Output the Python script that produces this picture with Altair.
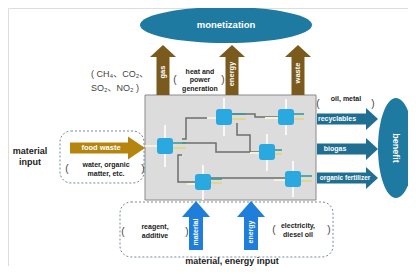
import altair as alt
import pandas as pd

FONT = "Liberation Sans, Arial, Noto Sans CJK SC, sans-serif"

# ---------------- data ----------------
# central process box
box_x, box_x2, box_y, box_y2 = [145], [316], [95], [200]

# dashed rounded frames (left input, bottom input)
dash_x, dash_x2 = [60, 120], [144, 333]
dash_y, dash_y2 = [131, 202], [183, 257]

# ellipses
mon_x, mon_y, mon_w, mon_h = [226], [25], 172, 36
ben_x, ben_y, ben_w, ben_h = [396], [148], 36, 100

# brown up arrows (outputs to monetization)
up_labels = ["gas", "energy", "waste"]
up_x = [163, 232, 298]
up_base = [95, 95, 95]
up_neck = [57, 57, 57]
up_text_y = [72, 74, 73]

# teal right arrows (outputs to benefit)
rt_labels = ["recyclables", "biogas", "organic fertilizer"]
rt_y = [119, 149, 178]
rt_start = [317, 317, 317]
rt_neck = [366, 366, 366]
rt_text_x = [337, 335, 345]
rt_text_size = [7, 7, 6.5]

# food waste arrow
fw_y = [148]
fw_start, fw_neck = [70], [128]
fw_text_x = [101]

# blue up arrows (material / energy input)
bl_labels = ["material", "energy"]
bl_x = [196, 251]
bl_base = [250, 250]
bl_neck = [217, 217]
bl_text_y = [232, 232]

# process nodes
node_x = [165, 224, 286, 267, 203, 293]
node_y = [146, 117, 117, 152, 182, 179]

# network connection polylines
conn_id = ["a"] * 4 + ["b"] * 4 + ["c"] * 4 + ["d"] * 4 + ["e"] * 4 + ["f"] * 2
conn_x = [182, 186, 186, 216,
          182, 216, 216, 259,
          182, 178, 178, 195,
          232, 255, 255, 278,
          237, 237, 250, 250,
          211, 285]
conn_y = [139, 139, 118, 118,
          143, 143, 152, 152,
          155, 155, 182, 182,
          114, 114, 117, 117,
          123, 135, 135, 152,
          178, 178]

# decoration lines around nodes (white vertical / horizontal, coloured stubs)
wv_x = [165, 224, 286, 267, 203, 293]
wv_y = [125, 98, 99, 134, 165, 161]
wv_y2 = [167, 136, 135, 171, 200, 197]
wh_x = [145, 207, 265, 250, 187, 274]
wh_x2 = [157, 216, 278, 259, 195, 285]
wh_y = [146, 118, 118, 153, 184, 180]
stub_x = [173, 173, 232, 232, 294, 294, 275, 275, 211, 211, 301, 301]
stub_x2 = [186, 186, 246, 246, 304, 304, 282, 282, 222, 222, 312, 312]
stub_y = [143, 148, 114, 119, 114, 119, 150, 154, 179, 183, 176, 181]
stub_c = ["#3a9c96", "#e6d47a"] * 6

# texts
bold_labels = ["heat and", "power", "generation", "oil, metal",
               "water, organic", "matter, etc.", "reagent,", "additive",
               "electricity,", "diesel oil"]
bold_x = [200, 200, 200, 346, 106, 106, 155, 155, 298, 298]
bold_y = [72, 80, 89, 99, 165, 174, 227, 236, 226, 235]

big_labels = ["material", "input", "material, energy input"]
big_x = [30, 30, 232]
big_y = [151, 162, 261]

gas_labels = ["( CH\u2084\u3001CO\u2082\u3001", "SO\u2082\u3001NO\u2082 )"]
gas_x = [91, 91]
gas_y = [74, 88]

par_labels = ["(", ")", "(", ")", "(", ")", "(", ")", "(", ")"]
par_x = [175, 223, 318, 373, 67, 143, 123, 187, 274, 329]
par_y = [80, 80, 104, 104, 169, 169, 232, 232, 230, 230]

# ---------------- helpers ----------------
xs = alt.Scale(domain=[8, 408])
ys = alt.Scale(domain=[8, 266], reverse=True)


def X(f):
    return alt.X(f, type="quantitative", scale=xs, axis=None)


def Y(f):
    return alt.Y(f, type="quantitative", scale=ys, axis=None)


def ellipse_path(w, h):
    a, b, k = w / 2, h / 2, 0.5523
    return (f"M {a} 0 C {a} {k*b} {k*a} {b} 0 {b} C {-k*a} {b} {-a} {k*b} {-a} 0 "
            f"C {-a} {-k*b} {-k*a} {-b} 0 {-b} C {k*a} {-b} {a} {-k*b} {a} 0 Z")


def tri_up(w, h):
    return f"M {-w/2} 0 L 0 {-h} L {w/2} 0 Z"


def tri_right(w, h):
    return f"M 0 {-h/2} L {w} 0 L 0 {h/2} Z"


ROUND_SQ = ("M -5 -8 L 5 -8 Q 8 -8 8 -5 L 8 5 Q 8 8 5 8 L -5 8 Q -8 8 -8 5 "
            "L -8 -5 Q -8 -8 -5 -8 Z")


def pts(shape, color, df):
    return alt.Chart(df).mark_point(shape=shape, size=4, filled=True, fill=color,
                                    opacity=1, strokeWidth=0).encode(x=X("x"), y=Y("y"))


layers = []

# box
layers.append(alt.Chart(pd.DataFrame({"x": box_x, "x2": box_x2, "y": box_y, "y2": box_y2}))
              .mark_rect(fill="#dcdcdc", stroke="#8a8a8a", strokeWidth=1)
              .encode(x=X("x"), x2="x2", y=Y("y"), y2="y2"))

# dashed frames
layers.append(alt.Chart(pd.DataFrame({"x": dash_x, "x2": dash_x2, "y": dash_y, "y2": dash_y2}))
              .mark_rect(fill="white", fillOpacity=0, stroke="#7a8a99", strokeWidth=1,
                         strokeDash=[2, 2], cornerRadius=11)
              .encode(x=X("x"), x2="x2", y=Y("y"), y2="y2"))

# connection lines
layers.append(alt.Chart(pd.DataFrame({"id": conn_id, "x": conn_x, "y": conn_y,
                                      "o": list(range(len(conn_x)))}))
              .mark_line(color="#6e6e6e", strokeWidth=1.5)
              .encode(x=X("x"), y=Y("y"), detail="id:N", order="o:Q"))

# white decoration lines
layers.append(alt.Chart(pd.DataFrame({"x": wv_x, "y": wv_y, "y2": wv_y2}))
              .mark_rule(color="#f8f8f8", strokeWidth=2)
              .encode(x=X("x"), y=Y("y"), y2="y2"))
layers.append(alt.Chart(pd.DataFrame({"x": wh_x, "x2": wh_x2, "y": wh_y}))
              .mark_rule(color="#f4f1dc", strokeWidth=2)
              .encode(x=X("x"), x2="x2", y=Y("y")))
layers.append(alt.Chart(pd.DataFrame({"x": stub_x, "x2": stub_x2, "y": stub_y, "c": stub_c}))
              .mark_rule(strokeWidth=1.6)
              .encode(x=X("x"), x2="x2", y=Y("y"), color=alt.Color("c:N", scale=None)))

# nodes
layers.append(pts(ROUND_SQ, "#2aa8e0", pd.DataFrame({"x": node_x, "y": node_y})))

# ellipses
layers.append(pts(ellipse_path(mon_w, mon_h), "#1f7aa2", pd.DataFrame({"x": mon_x, "y": mon_y})))
layers.append(pts(ellipse_path(ben_w, ben_h), "#1f7aa2", pd.DataFrame({"x": ben_x, "y": ben_y})))

# brown up arrows
BROWN = "#7b5a1d"
layers.append(alt.Chart(pd.DataFrame({"x": up_x, "y": up_base, "y2": up_neck}))
              .mark_rule(color=BROWN, strokeWidth=13, strokeCap="butt")
              .encode(x=X("x"), y=Y("y"), y2="y2"))
layers.append(pts(tri_up(26, 12), BROWN, pd.DataFrame({"x": up_x, "y": up_neck})))

# teal right arrows
TEAL = "#1f6f92"
layers.append(alt.Chart(pd.DataFrame({"x": rt_start, "x2": rt_neck, "y": rt_y}))
              .mark_rule(color=TEAL, strokeWidth=11, strokeCap="butt")
              .encode(x=X("x"), x2="x2", y=Y("y")))
layers.append(pts(tri_right(12, 22), TEAL, pd.DataFrame({"x": rt_neck, "y": rt_y})))

# food waste arrow
GOLD = "#b5850f"
layers.append(alt.Chart(pd.DataFrame({"x": fw_start, "x2": fw_neck, "y": fw_y}))
              .mark_rule(color=GOLD, strokeWidth=11, strokeCap="butt")
              .encode(x=X("x"), x2="x2", y=Y("y")))
layers.append(pts(tri_right(17, 23), GOLD, pd.DataFrame({"x": fw_neck, "y": fw_y})))

# blue up arrows
BLUE = "#1f7edb"
layers.append(alt.Chart(pd.DataFrame({"x": bl_x, "y": bl_base, "y2": bl_neck}))
              .mark_rule(color=BLUE, strokeWidth=14, strokeCap="butt")
              .encode(x=X("x"), y=Y("y"), y2="y2"))
layers.append(pts(tri_up(28, 16), BLUE, pd.DataFrame({"x": bl_x, "y": bl_neck})))

# ---------------- texts ----------------
def txt(df, **kw):
    base = dict(font=FONT, baseline="middle")
    base.update(kw)
    return alt.Chart(df).mark_text(**base).encode(x=X("x"), y=Y("y"), text="t:N")


layers.append(txt(pd.DataFrame({"x": bold_x, "y": bold_y, "t": bold_labels}),
                  fontSize=7, fontWeight="bold", color="#222222"))
layers.append(txt(pd.DataFrame({"x": big_x, "y": big_y, "t": big_labels}),
                  fontSize=9, fontWeight="bold", color="#222222"))
layers.append(txt(pd.DataFrame({"x": gas_x, "y": gas_y, "t": gas_labels}),
                  fontSize=9, color="#444444", align="left"))
layers.append(txt(pd.DataFrame({"x": par_x, "y": par_y, "t": par_labels}),
                  fontSize=10, color="#444444"))

# white labels
layers.append(txt(pd.DataFrame({"x": mon_x, "y": mon_y, "t": ["monetization"]}),
                  fontSize=9.5, fontWeight="bold", color="white"))
layers.append(txt(pd.DataFrame({"x": ben_x, "y": ben_y, "t": ["benefit"]}),
                  fontSize=9, fontWeight="bold", color="white", angle=90))
layers.append(txt(pd.DataFrame({"x": up_x, "y": up_text_y, "t": up_labels}),
                  fontSize=7.5, fontWeight="bold", color="white", angle=270))
layers.append(alt.Chart(pd.DataFrame({"x": rt_text_x, "y": rt_y, "t": rt_labels, "s": rt_text_size}))
              .mark_text(font=FONT, baseline="middle", fontWeight="bold", color="white")
              .encode(x=X("x"), y=Y("y"), text="t:N", size=alt.Size("s:Q", scale=None)))
layers.append(txt(pd.DataFrame({"x": fw_text_x, "y": fw_y, "t": ["food waste"]}),
                  fontSize=7.5, fontWeight="bold", color="white"))
layers.append(txt(pd.DataFrame({"x": bl_x, "y": bl_text_y, "t": bl_labels}),
                  fontSize=7, fontWeight="bold", color="white", angle=270))

chart = (alt.layer(*layers)
         .properties(width=400, height=258, padding=0,
                     autosize=alt.AutoSizeParams(type="none"))
         .configure_view(stroke=None)
         .configure(background="white"))

chart.save("out.html", embed_options={"renderer": "svg", "actions": False})
